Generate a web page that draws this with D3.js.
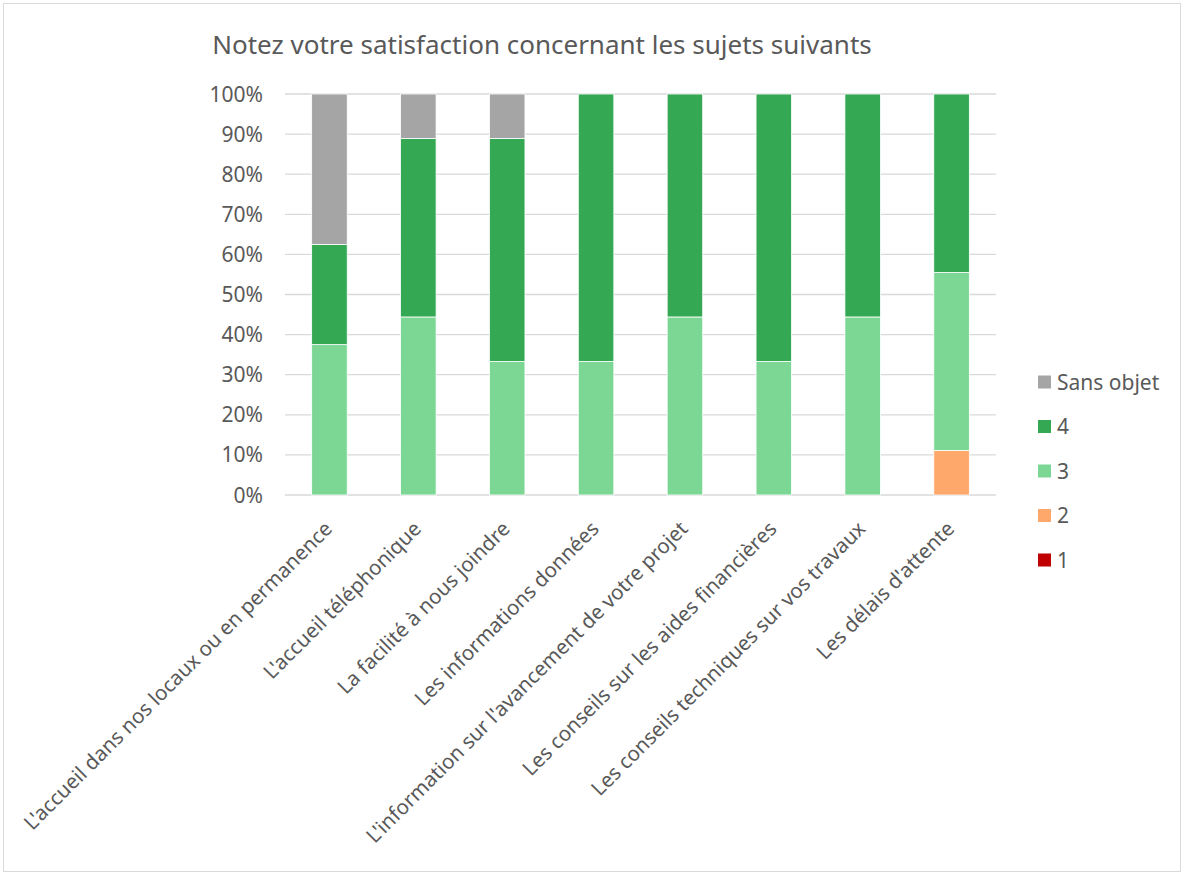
<!DOCTYPE html>
<html>
<head>
<meta charset="utf-8">
<script src="https://d3js.org/d3.v7.min.js"></script>
<style>
  body { margin: 0; background: #fff; }
  svg text { font-family: "Noto Sans", "Open Sans", sans-serif; fill: #595959; }
</style>
</head>
<body>
<div id="chart"></div>
<script>
// data (shares in %)
const categories = [
  "L'accueil dans nos locaux ou en permanence",
  "L'accueil téléphonique",
  "La facilité à nous joindre",
  "Les informations données",
  "L'information sur l'avancement de votre projet",
  "Les conseils sur les aides financières",
  "Les conseils techniques sur vos travaux",
  "Les délais d'attente"
];
const seriesNames = ["1", "2", "3", "4", "Sans objet"];
const note1 = [0, 0, 0, 0, 0, 0, 0, 0];
const note2 = [0, 0, 0, 0, 0, 0, 0, 11.1];
const note3 = [37.5, 44.4, 33.3, 33.3, 44.4, 33.3, 44.4, 44.4];
const note4 = [25, 44.5, 55.6, 66.7, 55.6, 66.7, 55.6, 44.5];
const sansObjet = [37.5, 11.1, 11.1, 0, 0, 0, 0, 0];
const colors = ["#C00000", "#FFA86B", "#7DD794", "#34A853", "#A5A5A5"];
const yTicks = [0, 10, 20, 30, 40, 50, 60, 70, 80, 90, 100];

function main() {
  let width = 1184, height = 875;
  let svg = d3.select("#chart").append("svg")
    .attr("width", width).attr("height", height);

  // outer frame
  svg.append("rect")
    .attr("x", 3.5).attr("y", 3.5)
    .attr("width", width - 7).attr("height", height - 7)
    .attr("fill", "#fff").attr("stroke", "#d9d9d9");

  let left = 285, right = 996, top = 94, bottom = 495;

  let x = d3.scaleBand().domain(categories).range([left, right]).paddingInner(0.6).paddingOuter(0.3);
  let y = d3.scaleLinear().domain([0, 100]).range([bottom, top]);

  let table = categories.map((c, i) => ({
    cat: c, "1": note1[i], "2": note2[i], "3": note3[i], "4": note4[i], "Sans objet": sansObjet[i]
  }));
  let stacked = d3.stack().keys(seriesNames)(table);
  let color = d3.scaleOrdinal().domain(seriesNames).range(colors);

  // gridlines
  svg.append("g").selectAll("line")
    .data(yTicks)
    .enter().append("line")
    .attr("x1", left).attr("x2", right)
    .attr("y1", d => y(d)).attr("y2", d => y(d))
    .attr("stroke", "#d9d9d9").attr("stroke-width", 1.3);

  // y labels
  svg.append("g").selectAll("text")
    .data(yTicks)
    .enter().append("text")
    .attr("x", 263).attr("y", d => y(d))
    .attr("dy", "0.36em")
    .attr("text-anchor", "end")
    .style("font-size", "21px")
    .text(d => d + "%");

  // bars
  svg.append("g").selectAll("g")
    .data(stacked)
    .enter().append("g")
    .attr("fill", d => color(d.key))
    .selectAll("rect")
    .data(d => d.filter(s => s[1] - s[0] > 0))
    .enter().append("rect")
    .attr("x", d => x(d.data.cat))
    .attr("width", x.bandwidth())
    .attr("y", d => y(d[1]))
    .attr("height", d => y(d[0]) - y(d[1]))
    .attr("stroke", "#fff").attr("stroke-width", 0.8);

  // category labels
  svg.append("g").selectAll("text")
    .data(categories)
    .enter().append("text")
    .attr("transform", d => `translate(${x(d) + x.bandwidth() / 2 - 1},${bottom + 30}) rotate(-45)`)
    .attr("text-anchor", "end")
    .attr("dy", "0.35em")
    .style("font-size", "20.5px")
    .text(d => d);

  // title
  svg.append("text")
    .attr("x", 542).attr("y", 54)
    .attr("text-anchor", "middle")
    .style("font-size", "26px")
    .text("Notez votre satisfaction concernant les sujets suivants");

  // legend (reverse order)
  let legend = svg.append("g").selectAll("g")
    .data(seriesNames.slice().reverse())
    .enter().append("g")
    .attr("transform", (d, i) => `translate(1038,${382 + i * 44.5})`);
  legend.append("rect")
    .attr("x", 0).attr("y", -6.5)
    .attr("width", 13).attr("height", 13)
    .attr("fill", d => color(d));
  legend.append("text")
    .attr("x", 19).attr("y", 0).attr("dy", "0.36em")
    .style("font-size", "21px")
    .text(d => d);
}
main();
</script>
</body>
</html>
